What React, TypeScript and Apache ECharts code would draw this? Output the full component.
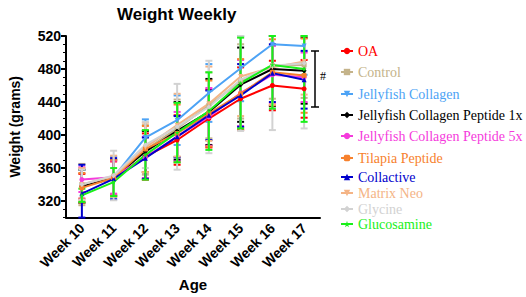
import React, { useEffect, useRef } from "react";
import * as echarts from "echarts";

const weeks = ["Week 10", "Week 11", "Week 12", "Week 13", "Week 14", "Week 15", "Week 16", "Week 17"];
const yTicks = [320, 360, 400, 440, 480, 520];

const oa = [338, 348, 374, 394, 420, 444, 460, 456];
const control = [340, 349, 382, 408, 436, 465, 484, 485];
const jellyCollagen = [338, 349, 397, 418, 451, 481, 510, 508];
const jcp1x = [338, 348, 380, 405, 428, 461, 480, 478];
const jcp5x = [346, 349, 373, 398, 422, 451, 473, 470];
const tilapia = [336, 348, 383, 402, 426, 450, 476, 472];
const collactive = [329, 347, 372, 398, 424, 448, 475, 467];
const matrixNeo = [340, 350, 385, 412, 438, 471, 482, 489];
const glycine = [340, 351, 388, 410, 434, 467, 484, 487];
const glucosamine = [327, 343, 376, 403, 429, 463, 485, 480];

const oaSd = [15, 20, 28, 30, 35, 38, 30, 35];
const controlSd = [25, 22, 30, 35, 40, 45, 40, 40];
const jellyCollagenSd = [20, 25, 22, 30, 35, 40, 30, 35];
const jcp1xSd = [20, 22, 25, 35, 40, 45, 45, 40];
const jcp5xSd = [15, 20, 25, 30, 35, 40, 35, 30];
const tilapiaSd = [18, 22, 28, 35, 40, 42, 40, 45];
const collactiveSd = [35, 25, 25, 25, 30, 38, 35, 35];
const matrixNeoSd = [20, 25, 30, 38, 45, 48, 45, 40];
const glycineSd = [18, 30, 28, 52, 56, 62, 78, 79];
const glucosamineSd = [8, 17, 30, 36, 47, 55, 53, 64];

const STAR = "path://M50,0 L61,35 L98,35 L68,57 L79,91 L50,70 L21,91 L32,57 L2,35 L39,35 Z";
const TRI_DOWN = "path://M0,0 L100,0 L50,90 Z";

const groups = [
  { name: "OA", values: oa, sd: oaSd, color: "#FF0000", symbol: "circle" },
  { name: "Control", values: control, sd: controlSd, color: "#C4B38A", symbol: "rect" },
  { name: "Jellyfish Collagen", values: jellyCollagen, sd: jellyCollagenSd, color: "#4DA3F5", symbol: TRI_DOWN },
  { name: "Jellyfish Collagen Peptide 1x", values: jcp1x, sd: jcp1xSd, color: "#000000", symbol: "diamond" },
  { name: "Jellyfish Collagen Peptide 5x", values: jcp5x, sd: jcp5xSd, color: "#F53BDC", symbol: "circle" },
  { name: "Tilapia Peptide", values: tilapia, sd: tilapiaSd, color: "#F7812D", symbol: "roundRect" },
  { name: "Collactive", values: collactive, sd: collactiveSd, color: "#0000CC", symbol: "triangle" },
  { name: "Matrix Neo", values: matrixNeo, sd: matrixNeoSd, color: "#F4B486", symbol: TRI_DOWN },
  { name: "Glycine", values: glycine, sd: glycineSd, color: "#D2D2D2", symbol: "diamond" },
  { name: "Glucosamine", values: glucosamine, sd: glucosamineSd, color: "#19F019", symbol: STAR },
];

const legendTops = [47, 68, 90, 111, 132, 154, 173, 189, 205, 220];

const Y_MIN = 300;
const Y_MAX = 520;

export default function App() {
  const ref = useRef<HTMLDivElement>(null);
  useEffect(() => {
    if (!ref.current) return;
    const chart = echarts.init(ref.current, null, { renderer: "svg" });
    const series: any[] = [];
    groups.forEach((g) => {
      series.push({
        type: "custom",
        name: g.name + " SD",
        data: g.values.map((v, i) => [i, v, g.sd[i]]),
        encode: { x: 0, y: 1 },
        silent: true,
        renderItem: (params: any, api: any) => {
          const x = api.value(0);
          const m = api.value(1);
          const s = api.value(2);
          const hi = Math.min(m + s, Y_MAX);
          const lo = Math.max(m - s, Y_MIN);
          const pHi = api.coord([x, hi]);
          const pLo = api.coord([x, lo]);
          const w = 3.5;
          const st = { stroke: g.color, lineWidth: 2 };
          return {
            type: "group",
            children: [
              { type: "line", shape: { x1: pHi[0], y1: pHi[1], x2: pLo[0], y2: pLo[1] }, style: st },
              { type: "line", shape: { x1: pHi[0] - w, y1: pHi[1], x2: pHi[0] + w, y2: pHi[1] }, style: st },
              { type: "line", shape: { x1: pLo[0] - w, y1: pLo[1], x2: pLo[0] + w, y2: pLo[1] }, style: st },
            ],
          };
        },
      });
      series.push({
        type: "line",
        name: g.name,
        data: g.values,
        symbol: g.symbol,
        symbolSize: 5,
        showSymbol: true,
        lineStyle: { color: g.color, width: 2 },
        itemStyle: { color: g.color },
      });
    });

    const legends = groups.map((g, i) => ({
      data: [g.name],
      left: 335,
      top: legendTops[i] - 8,
      itemWidth: 12,
      itemHeight: 8,
      selectedMode: false,
      textStyle: { color: g.color, fontFamily: "Liberation Serif", fontSize: 14 },
    }));

    const axisFont = { fontFamily: "Liberation Sans", fontWeight: "bold" as const, color: "#000" };

    chart.setOption({
      animation: false,
      title: {
        text: "Weight Weekly",
        left: 112,
        top: 1,
        textStyle: { ...axisFont, fontSize: 17 },
      },
      legend: legends,
      grid: { left: 44, right: 206, top: 36, bottom: 75, containLabel: false },
      xAxis: {
        type: "category",
        data: weeks,
        boundaryGap: true,
        name: "Age",
        nameLocation: "middle",
        nameGap: 57,
        nameTextStyle: { ...axisFont, fontSize: 15 },
        axisLine: { lineStyle: { color: "#000", width: 2 } },
        axisTick: { alignWithLabel: true, length: 5, lineStyle: { color: "#000", width: 2 } },
        axisLabel: { rotate: 45, margin: 8, ...axisFont, fontSize: 14 },
        splitLine: { show: false },
      },
      yAxis: [
        {
          type: "value",
          min: Y_MIN,
          max: Y_MAX,
          interval: 10,
          name: "Weight (grams)",
          nameLocation: "middle",
          nameGap: 44,
          nameTextStyle: { ...axisFont, fontSize: 14 },
          axisLine: { show: true, lineStyle: { color: "#000", width: 2 } },
          axisTick: { show: true, length: 5, customValues: yTicks, lineStyle: { color: "#000", width: 2 } },
          axisLabel: { margin: 5, ...axisFont, fontSize: 14, customValues: yTicks },
          splitLine: { show: false },
        },
        {
          type: "value",
          min: Y_MIN,
          max: Y_MAX,
          interval: 10,
          position: "left",
          axisLine: { show: false },
          axisTick: { show: true, length: 3, lineStyle: { color: "#000", width: 1 } },
          axisLabel: { show: false },
          splitLine: { show: false },
        },
      ],
      graphic: [
        { type: "line", shape: { x1: 315, y1: 51, x2: 315, y2: 107 }, style: { stroke: "#000", lineWidth: 1.5 } },
        { type: "line", shape: { x1: 311, y1: 51, x2: 319, y2: 51 }, style: { stroke: "#000", lineWidth: 1.5 } },
        { type: "line", shape: { x1: 311, y1: 107, x2: 319, y2: 107 }, style: { stroke: "#000", lineWidth: 1.5 } },
        {
          type: "text",
          x: 320,
          y: 70,
          style: { text: "#", fill: "#000", font: "12px 'Liberation Serif'" },
        },
      ],
      series,
    });
    return () => chart.dispose();
  }, []);
  return <div ref={ref} style={{ width: 526, height: 297, position: "absolute", left: 0, top: 0 }} />;
}
